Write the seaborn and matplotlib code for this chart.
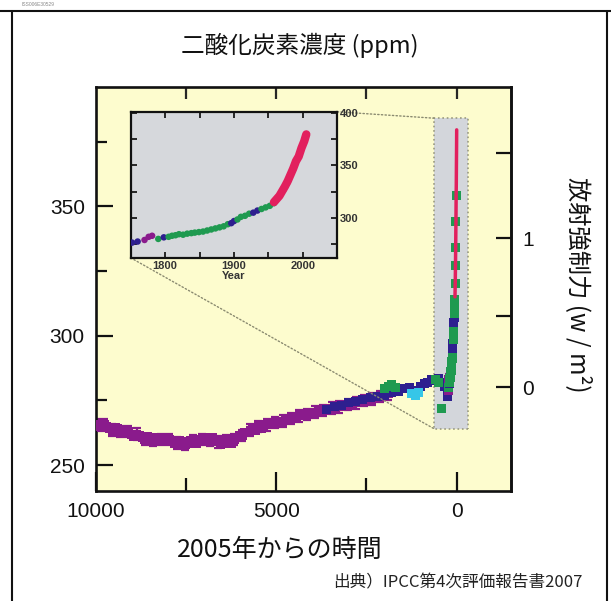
import numpy as np
import pandas as pd
import matplotlib
matplotlib.use("Agg")
import matplotlib.pyplot as plt
from matplotlib.patches import Rectangle, ConnectionPatch
from matplotlib.lines import Line2D
import seaborn as sns

# ── data ────────────────────────────────────────────────────────
# years before 2005 / CO2 ppm, ice-core series
purple_t = [10000, 9920, 9850, 9770, 9700, 9620, 9550, 9470, 9400, 9320, 9250,
            9170, 9100, 9020, 8950, 8870, 8800, 8720, 8650, 8570, 8500, 8420,
            8350, 8270, 8200, 8120, 8050, 7970, 7900, 7820, 7750, 7670, 7600,
            7520, 7450, 7370, 7300, 7220, 7150, 7070, 7000, 6920, 6850, 6770,
            6700, 6620, 6550, 6470, 6400, 6320, 6250, 6170, 6100, 6020, 5950,
            5870, 5800, 5720, 5650, 5570, 5500, 5420, 5350, 5270, 5200, 5120,
            5050, 4970, 4900, 4820, 4750, 4670, 4600, 4520, 4450, 4370, 4300,
            4220, 4150, 4070, 4000, 3920, 3850, 3770, 3700, 3620, 3550, 3470,
            3400, 3320, 3250, 3170, 3100, 3020, 2950, 2870, 2800, 2720, 2650,
            2570, 2500, 2420, 2350, 2270, 2200, 2120, 2050, 1970, 1900]
purple_c = [265.5, 265, 264.5, 265.5, 265, 264, 263.5, 264.5, 264, 263, 262.5,
            263.5, 263, 262, 261, 262, 261.5, 260.5, 260, 261, 260.5, 259.5,
            259.5, 260.5, 260, 259, 259, 260, 259.5, 258.5, 258.5, 259.5, 259,
            258, 258.5, 259.5, 259.5, 258.5, 259, 260, 260.5, 259.5, 259.5, 260.5,
            260, 259, 258, 259, 259.5, 258.5, 258.5, 260, 260.5, 261.5, 261.5,
            262.5, 262.5, 263.5, 264, 263.5, 265, 264, 264.5, 265.5, 266, 265.5,
            266.5, 267, 266, 267, 267.5, 268, 268, 268.5, 268.5, 269, 269,
            269.5, 269.5, 270, 270, 270.5, 270.5, 271, 271, 271.5, 271.5, 272,
            272, 272.5, 272.5, 273, 273, 273.5, 273.5, 274, 274, 274.5, 274.5,
            275, 275, 275.5, 275.5, 276, 276, 276.5, 277, 277.5, 277.5]

blue_t = [3600, 3400, 3200, 3000, 2800, 2600, 2400, 2200, 2000, 1800, 1600,
          1450, 1300, 1150, 1000, 900, 800, 700, 600, 500, 420, 350, 300]
blue_c = [271.5, 272.5, 273, 274, 274.5, 275.5, 276, 276.5, 277, 278, 278.5,
          279.5, 280, 279, 280.5, 281.5, 282, 283, 282.5, 283.5, 282, 280.5, 281]

green_t = [2000, 1900, 1800, 1700, 600, 500, 415]
green_c = [279.5, 280.5, 281, 280, 283, 282, 272]

cyan_t = [1250, 1150, 1050]
cyan_c = [277.5, 277, 278]

# calendar-year series (inset + spike)
core_year = [1752, 1760, 1770, 1776, 1781, 1790, 1798, 1805, 1810, 1815, 1820,
             1826, 1832, 1838, 1843, 1849, 1855, 1861, 1867, 1873, 1879, 1885,
             1891, 1896, 1900, 1905, 1910, 1916, 1922, 1928, 1934, 1940, 1946,
             1952, 1958, 1965, 1972, 1978, 1984, 1990]
core_ppm = [276.5, 277.5, 279, 282, 283, 280, 281.5, 282, 283, 283.5, 284.5,
            284, 285, 285.5, 286, 286.5, 287, 288, 289, 290, 291, 292,
            294, 295, 297, 298.5, 301, 302, 304, 305, 307, 308.5, 310,
            311.5, 314, 320, 327, 334, 344, 354]
core_src = ["blue", "blue", "purple", "purple", "purple", "green", "blue",
            "green", "green", "green", "green", "green", "green", "green",
            "green", "green", "green", "green", "green", "green", "green",
            "green", "green", "blue", "blue", "green", "green", "green",
            "green", "blue", "blue", "green", "green", "green", "green",
            "green", "green", "green", "green", "green"]

ml_year = [1958, 1962, 1966, 1970, 1974, 1978, 1982, 1986, 1990, 1994, 1998,
           2002, 2005]
ml_ppm = [315, 318, 321, 325.5, 330, 335, 341, 347, 354, 358.5, 366.5,
          373, 379.5]

palette = {"purple": "#8a1b8c", "blue": "#2e1f8f", "green": "#1f9a50",
           "cyan": "#36c6e8"}
RED = "#e2205e"

main_df = pd.concat([
    pd.DataFrame({"t": purple_t, "c": purple_c, "src": "purple"}),
    pd.DataFrame({"t": blue_t, "c": blue_c, "src": "blue"}),
    pd.DataFrame({"t": green_t, "c": green_c, "src": "green"}),
    pd.DataFrame({"t": cyan_t, "c": cyan_c, "src": "cyan"}),
    pd.DataFrame({"t": 2005 - np.array(core_year), "c": core_ppm, "src": core_src}),
], ignore_index=True)
core_df = pd.DataFrame({"year": core_year, "c": core_ppm, "src": core_src})
ml_df = pd.DataFrame({"year": ml_year, "c": ml_ppm})
ml_df["t"] = 2005 - ml_df["year"]

# ── style ────────────────────────────────────────────────────────
sns.set_style("ticks")
plt.rcParams['font.family'] = ['Liberation Sans', 'DejaVu Sans']
JP = ['Noto Sans CJK JP', 'DejaVu Sans']

fig = plt.figure(figsize=(6.11, 6.01), dpi=100)
fig.patch.set_facecolor("white")

ax = fig.add_axes([0.157, 0.183, 0.679, 0.672])
ax.set_facecolor("#fdfcce")

# highlight box round the last centuries
ax.add_patch(Rectangle((-300, 264), 920, 120, facecolor="#d3d6db",
                       edgecolor="#9a9a80", linestyle=":", linewidth=1.2, zorder=1))

# error bars (I-shapes) on the ice-core points
pdf = main_df[main_df["src"] == "purple"].iloc[::3]
ax.errorbar(pdf["t"], pdf["c"], yerr=2.2, fmt="none", ecolor=palette["purple"],
            elinewidth=1.6, capsize=3, capthick=1.6, zorder=2)
sns.scatterplot(data=main_df, x="t", y="c", hue="src", palette=palette,
                marker="s", s=42, edgecolor="none", legend=False, ax=ax, zorder=3)
sns.lineplot(data=ml_df, x="t", y="c", color=RED, linewidth=2.5, ax=ax, zorder=4)

ax.set_xlim(10000, -1500)
ax.set_ylim(240, 396)
ax.set_xticks([10000, 5000, 0])
ax.set_xticks([7500, 2500], minor=True)
ax.set_yticks([250, 300, 350])
ax.set_yticks([275, 325, 375], minor=True)
ax.set_xticklabels(["10000", "5000", "0"])
ax.set_xlabel("")
ax.set_ylabel("")
ax.tick_params(axis="both", which="both", direction="in", width=1.6,
               labelsize=15, colors="#111111", right=False, top=False)
ax.tick_params(axis="x", which="major", length=14, pad=8)
ax.tick_params(axis="x", which="minor", length=9.5)
ax.tick_params(axis="y", which="major", length=12, pad=8)
ax.tick_params(axis="y", which="minor", length=8)
for sp in ax.spines.values():
    sp.set_linewidth(1.9)
    sp.set_color("#111111")

top = ax.secondary_xaxis("top")
top.set_xticks([7500, 5000, 2500, 0])
top.tick_params(direction="in", length=8.5, width=1.6, labeltop=False)

def to_forcing(c):
    return 5.35 * np.log(np.clip(c, 1e-3, None) / 280.0)

def to_ppm(f):
    return 280.0 * np.exp(f / 5.35)

sec = ax.secondary_yaxis("right", functions=(to_forcing, to_ppm))
sec.set_yticks([0, 1])
sec.set_yticks([0.5, 1.5], minor=True)
sec.tick_params(axis="y", which="both", direction="in", length=11, width=1.6,
                labelsize=15, pad=8, colors="#111111")
sec.spines["right"].set_linewidth(1.9)

# ── inset ───────────────────────────────────────────────────────
ins = fig.add_axes([0.214, 0.571, 0.338, 0.243])
ins.set_facecolor("#d6d8dc")
ins.set_zorder(5)
sns.scatterplot(data=core_df, x="year", y="c", hue="src", palette=palette,
                marker="o", s=22, edgecolor="none", legend=False, ax=ins, zorder=3)
sns.lineplot(data=ml_df, x="year", y="c", color=RED, linewidth=6, ax=ins, zorder=4)
ins.set_xlim(1750, 2050)
ins.set_ylim(262, 401)
ins.set_xticks([1800, 1900, 2000])
ins.set_xticks([1850, 1950], minor=True)
ins.set_yticks([300, 350, 400])
ins.set_yticks([275, 325, 375], minor=True)
ins.yaxis.tick_right()
ins.tick_params(axis="both", which="both", direction="in", length=4, width=1.4,
                top=True, bottom=True, left=True, right=True, labelsize=8,
                labelcolor="#333333", pad=2)
for lbl in ins.get_xticklabels() + ins.get_yticklabels():
    lbl.set_fontweight("bold")
ins.set_xlabel("Year", fontsize=8, fontweight="bold", color="#333333", labelpad=0)
ins.set_ylabel("")
for sp in ins.spines.values():
    sp.set_linewidth(1.6)
    sp.set_color("#111111")

# dotted connectors from inset to the box
for xyA, xyB in [((1, 1), (620, 384)), ((0, 0), (620, 264))]:
    con = ConnectionPatch(xyA=xyA, coordsA=ins.transAxes, xyB=xyB,
                          coordsB=ax.transData, color="#8a8a70",
                          linestyle=":", linewidth=1.0)
    con.set_zorder(2)
    fig.add_artist(con)

# ── texts ───────────────────────────────────────────────────────
fig.text(0.49, 0.925, "二酸化炭素濃度 (ppm)", ha="center", va="center",
         fontsize=17, family=JP, color="#111111")
fig.text(0.458, 0.085, "2005年からの時間", ha="center", va="center",
         fontsize=18, family=JP, color="#111111")
fig.text(0.946, 0.526, "放射強制力 (w / m²)", ha="center", va="center",
         rotation=270, fontsize=17.5, family=JP, color="#111111")
fig.text(0.954, 0.03, "出典）IPCC第4次評価報告書2007", ha="right", va="center",
         fontsize=12, family=JP, color="#222222")
fig.text(0.036, 0.992, "ISS006E30529", ha="left", va="center", fontsize=3.5,
         color="#888888")

# page frame
fig.add_artist(Line2D([0, 1], [0.982, 0.982], transform=fig.transFigure,
                      color="#111111", linewidth=1.5))
for xf in [0.020, 0.993]:
    fig.add_artist(Line2D([xf, xf], [0, 0.982], transform=fig.transFigure,
                          color="#111111", linewidth=1.5))

plt.savefig("out.png", dpi=100)
plt.close()
